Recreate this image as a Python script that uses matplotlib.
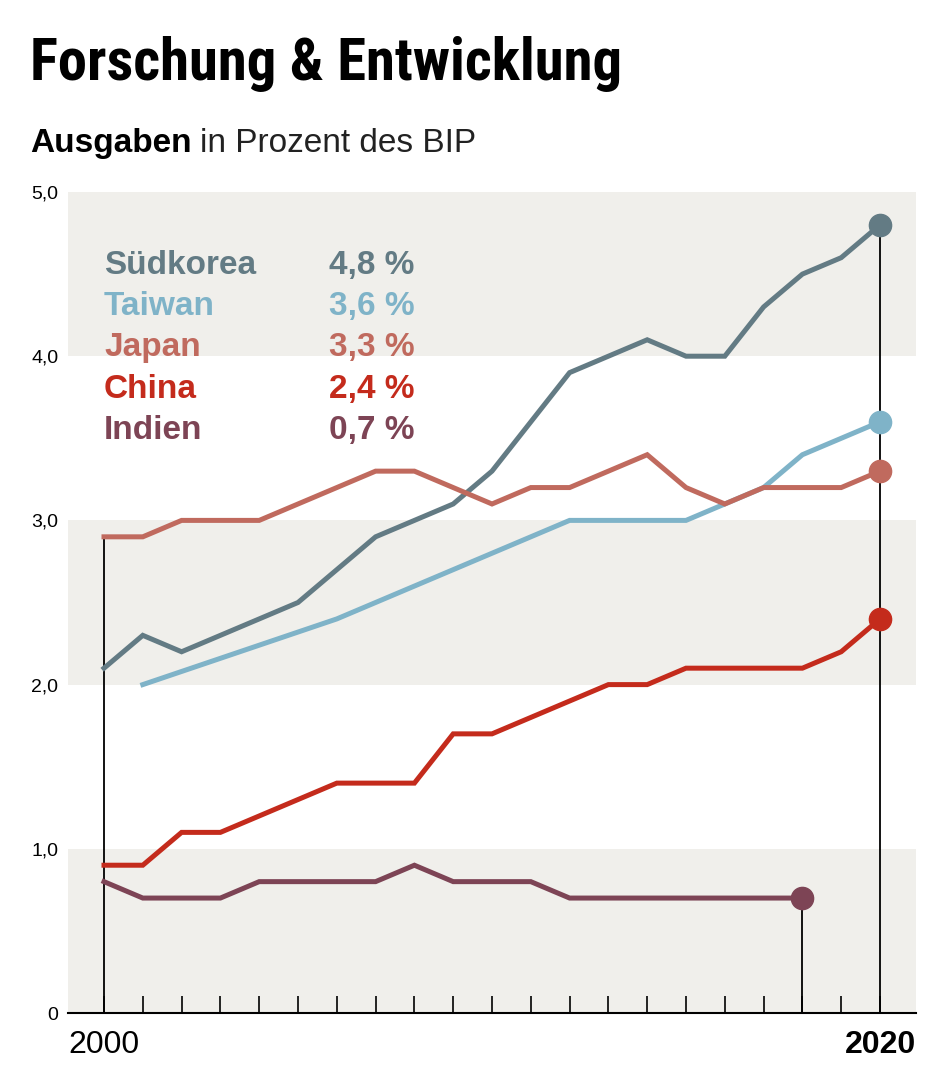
import matplotlib.pyplot as plt
from matplotlib import font_manager

# Ausgaben fuer Forschung & Entwicklung in Prozent des BIP
years = list(range(2000, 2021))
korea = [2.1, 2.3, 2.2, 2.3, 2.4, 2.5, 2.7, 2.9, 3.0, 3.1, 3.3,
         3.6, 3.9, 4.0, 4.1, 4.0, 4.0, 4.3, 4.5, 4.6, 4.8]
taiwan_years = [2001, 2006, 2012, 2013, 2014, 2015, 2016, 2017, 2018, 2019, 2020]
taiwan = [2.0, 2.4, 3.0, 3.0, 3.0, 3.0, 3.1, 3.2, 3.4, 3.5, 3.6]
japan = [2.9, 2.9, 3.0, 3.0, 3.0, 3.1, 3.2, 3.3, 3.3, 3.2, 3.1,
         3.2, 3.2, 3.3, 3.4, 3.2, 3.1, 3.2, 3.2, 3.2, 3.3]
china = [0.9, 0.9, 1.1, 1.1, 1.2, 1.3, 1.4, 1.4, 1.4, 1.7, 1.7,
         1.8, 1.9, 2.0, 2.0, 2.1, 2.1, 2.1, 2.1, 2.2, 2.4]
india_years = list(range(2000, 2019))
india = [0.8, 0.7, 0.7, 0.7, 0.8, 0.8, 0.8, 0.8, 0.9, 0.8, 0.8,
         0.8, 0.7, 0.7, 0.7, 0.7, 0.7, 0.7, 0.7]

names = ["Südkorea", "Taiwan", "Japan", "China", "Indien"]
latest = ["4,8 %", "3,6 %", "3,3 %", "2,4 %", "0,7 %"]
colors = ["#637b84", "#7fb3c8", "#c06a5e", "#c42b1c", "#7d4455"]
ytick_vals = [0, 1, 2, 3, 4, 5]
ytick_labels = ["0", "1,0", "2,0", "3,0", "4,0", "5,0"]

plt.rcParams["font.family"] = ["Liberation Sans", "DejaVu Sans"]

# a narrow face for the headline, if there is one
installed = font_manager.fontManager.ttflist
title_kw = {"family": "Roboto"}
for f in installed:
    if f.name in ("Roboto Condensed", "Liberation Sans Narrow", "Open Sans Condensed"):
        title_kw = {"family": f.name}
        break
else:
    for f in installed:
        if f.name == "DejaVu Sans" and "ondensed" in f.fname:
            title_kw = {"family": "DejaVu Sans", "stretch": "condensed"}
            break

W, H = 942, 1087
fig = plt.figure(figsize=(W / 100, H / 100), dpi=100)
ax = fig.add_axes([68 / W, (H - 1013) / H, 848 / W, 821 / H])

ax.set_xlim(2000 - 36 / 38.8, 2020 + 36 / 38.8)
ax.set_ylim(0, 5)

# grey bands
for lo in [0, 2, 4]:
    ax.axhspan(lo, lo + 1, color="#f0efeb", lw=0, zorder=0)

# stems
ax.vlines(2000, 0, japan[0], color="black", lw=1.3, zorder=1)
ax.vlines(2020, 0, korea[-1], color="black", lw=1.3, zorder=1)
ax.vlines(india_years[-1], 0, india[-1], color="black", lw=1.3, zorder=1)

series = [(years, korea), (taiwan_years, taiwan), (years, japan),
          (years, china), (india_years, india)]
for (xs, ys), c in zip(series, colors):
    ax.plot(xs, ys, color=c, lw=3.6, solid_joinstyle="miter", zorder=3)
    ax.plot(xs[-1], ys[-1], "o", color=c, ms=16, zorder=4)

# legend block
for i, (n, v, c) in enumerate(zip(names, latest, colors)):
    yy = 4.55 - i * 0.25
    ax.text(2000, yy, n, color=c, fontsize=24, fontweight="bold",
            ha="left", va="center")
    ax.text(2008, yy, v, color=c, fontsize=24, fontweight="bold",
            ha="right", va="center")

for s in ["top", "right", "left"]:
    ax.spines[s].set_visible(False)
ax.spines["bottom"].set_linewidth(1.5)

ax.set_xticks(years)
ax.set_xticklabels(["2000"] + [""] * 19 + ["2020"])
ax.tick_params(axis="x", direction="in", length=12, width=1.2,
               labelsize=23, pad=12)
ax.get_xticklabels()[-1].set_fontweight("bold")
ax.set_yticks(ytick_vals)
ax.set_yticklabels(ytick_labels)
ax.tick_params(axis="y", length=0, labelsize=14, pad=7)

title = fig.text(30 / W, 1 - 80 / H, "Forschung & Entwicklung", fontsize=46,
                 fontweight="bold", va="baseline", ha="left", **title_kw)
fig.canvas.draw()
tw = title.get_window_extent().width
title.set_fontsize(min(56, 46 * 592 / tw))

t1 = fig.text(30 / W, 1 - 152 / H, "Ausgaben", fontsize=24, fontweight="bold",
              va="baseline", ha="left")
fig.canvas.draw()
bb = t1.get_window_extent()
fig.text((bb.x1 + 8) / W, 1 - 152 / H, "in Prozent des BIP", fontsize=24,
         va="baseline", ha="left", color="#222222")

fig.savefig("out.png", dpi=100)
